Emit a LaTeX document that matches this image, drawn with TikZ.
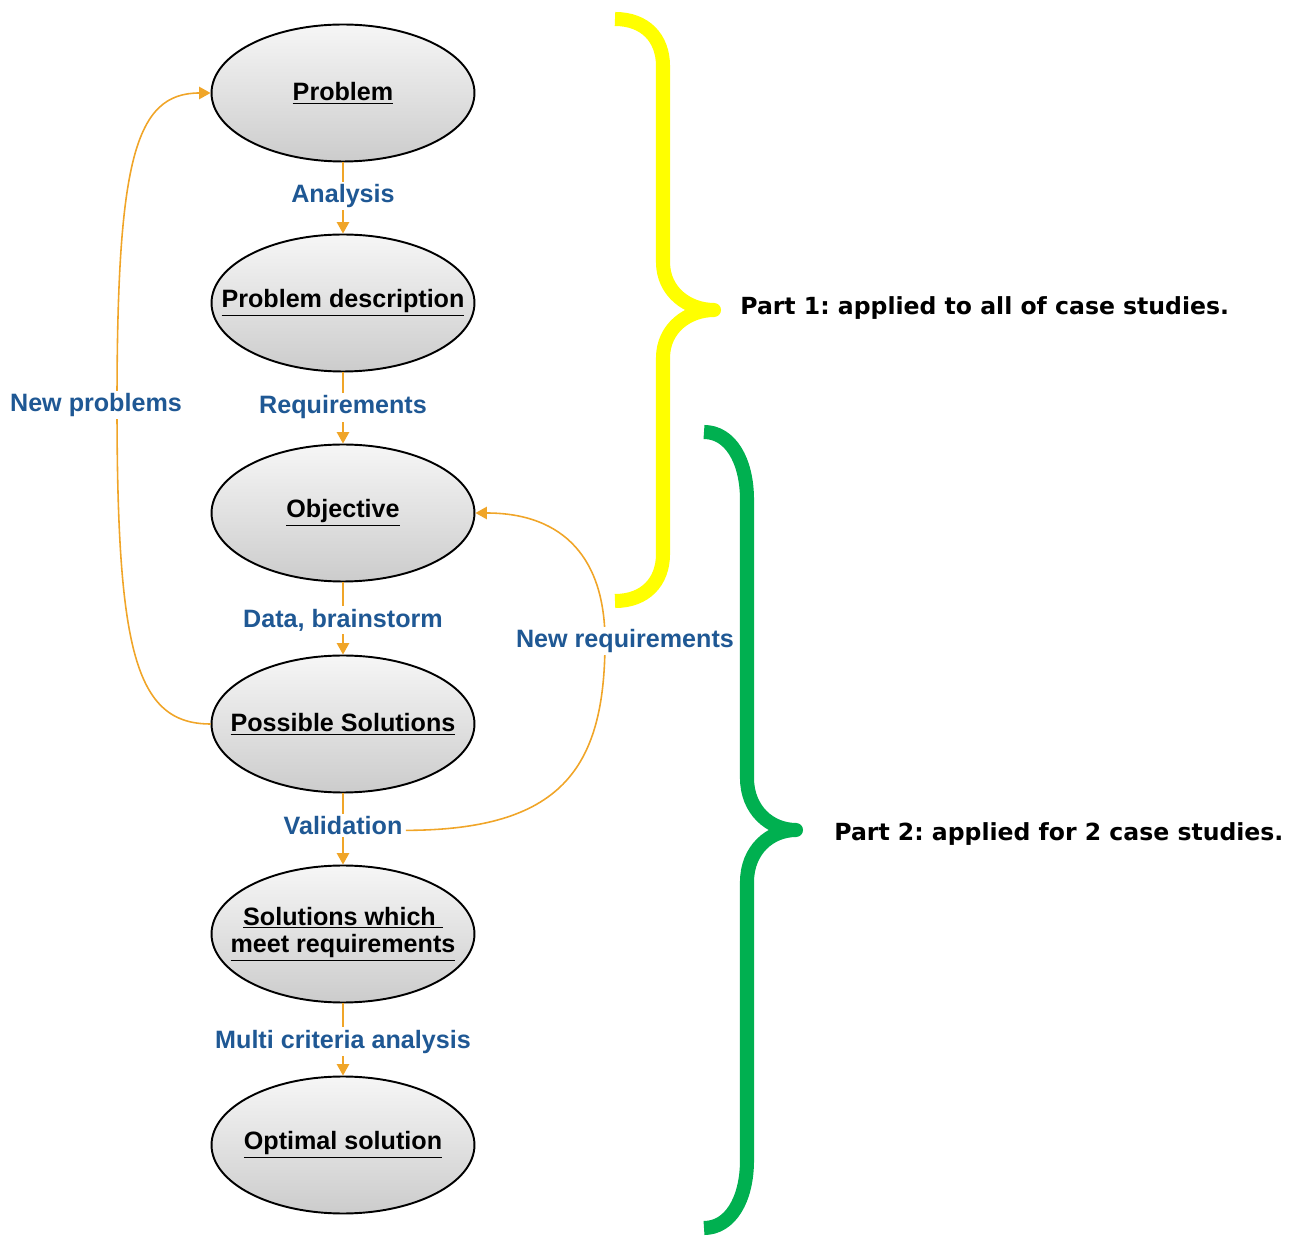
\documentclass[tikz,border=0pt]{standalone}
\usepackage{fontspec}
\setmainfont{Liberation Sans}
\newfontfamily\partfont{DejaVu Sans}
\usetikzlibrary{arrows.meta,shapes.geometric}

\definecolor{flowor}{RGB}{240,165,40}
\definecolor{lblblue}{RGB}{31,88,148}
\definecolor{braceyel}{RGB}{255,255,0}
\definecolor{bracegrn}{RGB}{0,176,80}
\definecolor{elltop}{RGB}{246,246,246}
\definecolor{ellbot}{RGB}{204,204,204}

% centred line of text that does not widen its node
\newcommand{\stageline}[1]{\makebox[0pt]{\underline{#1}}}

\tikzset{
  stage/.style={ellipse, draw=black, line width=1.1pt, top color=elltop,
    bottom color=ellbot, minimum width=5.26cm, minimum height=2.74cm,
    inner sep=0pt, align=center,
    font=\bfseries\fontsize{14.3}{16.5}\selectfont},
  lbl/.style={fill=white, inner sep=1.5pt, text=lblblue,
    font=\bfseries\fontsize{14.3}{17}\selectfont},
  flow/.style={draw=flowor, line width=0.9pt,
    -{Triangle[width=7pt,length=6.5pt]}, color=flowor},
  brace/.style={line width=8pt, line join=round},
  parttext/.style={anchor=west, inner sep=0pt,
    font=\partfont\bfseries\fontsize{13.4}{16}\selectfont\frenchspacing}
}

\begin{document}
\begin{tikzpicture}[x=0.02cm, y=-0.02cm]
\useasboundingbox (0,0) rectangle (1296,1236);

% process stages
\node[stage] (p1) at (343,93)   {\stageline{Problem}};
\node[stage] (p2) at (343,303)  {\stageline{Problem description}};
\node[stage] (p3) at (343,513)  {\stageline{Objective}};
\node[stage] (p4) at (343,724)  {\stageline{Possible Solutions}};
\node[stage] (p5) at (343,934)  {\stageline{Solutions which\ }\\[-1pt]\stageline{meet requirements}};
\node[stage] (p6) at (343,1145) {\stageline{Optimal solution}};

% forward steps
\draw[flow] (p1) -- node[lbl, pos=0.47] (a1) {Analysis} (p2);
\draw[flow] (p2) -- node[lbl, pos=0.49] (a2) {Requirements} (p3);
\draw[flow] (p3) -- node[lbl, pos=0.52] (a3) {Data, brainstorm} (p4);
\draw[flow] (p4) -- node[lbl, pos=0.45] (val) {Validation} (p5);
\draw[flow] (p5) -- node[lbl, pos=0.53] (a5) {Multi criteria analysis} (p6);

% feedback loops
\draw[flow] (p4.west) .. controls (135,724) and (117,650) .. (117,405)
  .. controls (117,160) and (135,93) .. (p1.west);
\node[lbl] (np) at (96,405) {New problems};

\draw[flow] ([yshift=-2.8pt]val.east) .. controls (560,830) and (605,770) .. (605,641)
  .. controls (605,560) and (565,513) .. (p3.east);
\node[lbl] (nr) at (625,641) {New requirements};

% part braces
\draw[brace, braceyel] (615,19) .. controls (645,19) and (663,38) .. (663,66)
  -- (663,262) .. controls (663,292) and (688,310) .. (714,310)
  .. controls (688,310) and (663,328) .. (663,358)
  -- (663,554) .. controls (663,582) and (645,601) .. (615,601);
\node[parttext] (t1) at (740,308) {Part 1: applied to all of case studies.};

\draw[brace, bracegrn] (704,432) .. controls (730,432) and (747,460) .. (747,500)
  -- (747,778) .. controls (747,810) and (770,830) .. (796,830)
  .. controls (770,830) and (747,850) .. (747,882)
  -- (747,1160) .. controls (747,1200) and (730,1228) .. (704,1228);
\node[parttext] (t2) at (834,834) {Part 2: applied for 2 case studies.};
\end{tikzpicture}
\end{document}
